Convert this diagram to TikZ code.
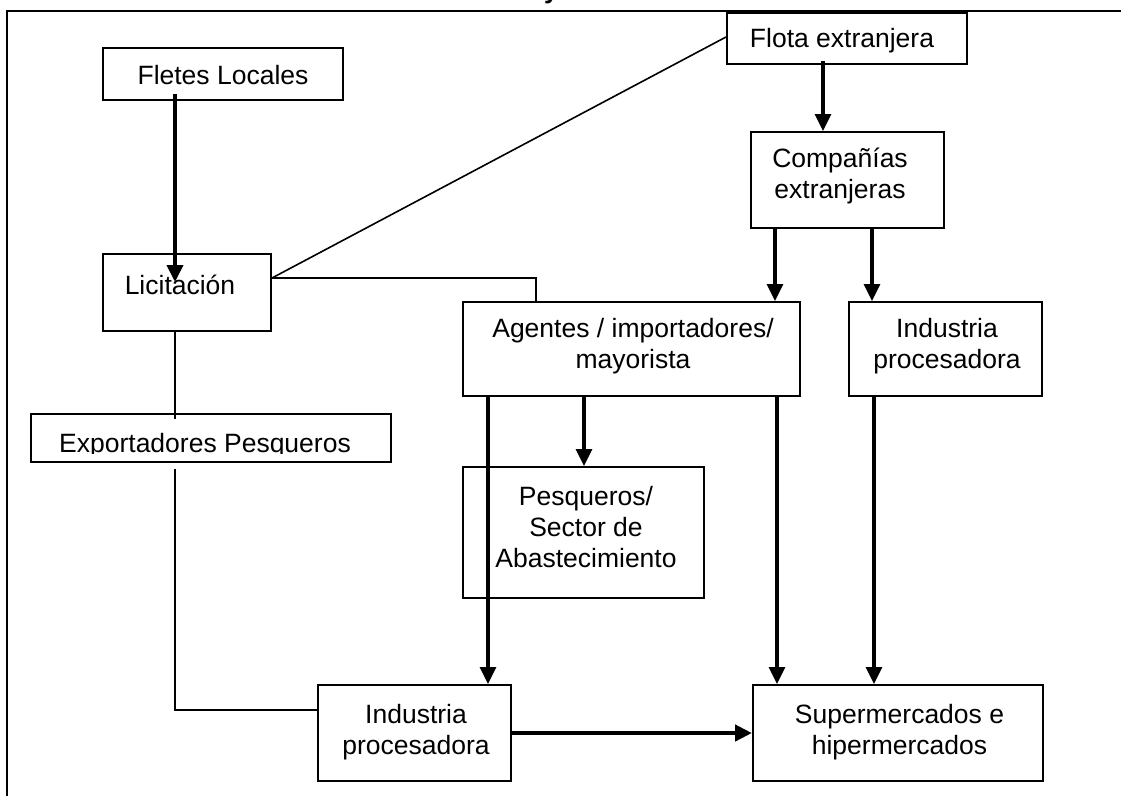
\documentclass[tikz,border=0pt]{standalone}
\usepackage{fontspec}
\setmainfont{Liberation Sans}
\usetikzlibrary{arrows.meta,calc}
\newcommand\textlines[1]{\vtop{\baselineskip=31pt\lineskiplimit=-100pt\halign{\hfil##\hfil\cr#1\crcr}}}
\begin{document}
\begin{tikzpicture}[x=1pt,y=-1pt,
  box/.style={draw, line width=2pt, inner sep=0pt, rectangle},
  lbl/.style={anchor=base, inner sep=0pt, font=\fontsize{26.5}{31}\selectfont},
  thinline/.style={line width=1.6pt},
  arr/.style={line width=3.2pt, -{Triangle[length=17pt,width=16pt]}},
  ]
\useasboundingbox (0,0) rectangle (1121,796);
% frame
\draw[line width=2pt] (7,796) -- (7,10.5) -- (1121,10.5);
\node[anchor=base west, inner sep=0pt, font=\fontsize{26}{31}\selectfont\bfseries] (ttl) at (544,-1.5) {y};

% boxes
\node[box, minimum width=240pt, minimum height=52pt] (fletes) at (223,74) {};
\node[box, minimum width=240pt, minimum height=51pt] (flota) at (847,38.5) {};
\node[box, minimum width=193pt, minimum height=96pt] (comp) at (847.5,180) {};
\node[box, minimum width=168pt, minimum height=77pt] (lic) at (187,292.5) {};
\node[box, minimum width=360pt, minimum height=48pt] (expo) at (211,438) {};
\node[box, minimum width=337pt, minimum height=94pt] (agentes) at (631.5,349) {};
\node[box, minimum width=193pt, minimum height=94pt] (indR) at (945.5,349) {};
\node[box, minimum width=241pt, minimum height=131pt] (pesq) at (583.5,532.5) {};
\node[box, minimum width=193pt, minimum height=96pt] (indB) at (414.5,733) {};
\node[box, minimum width=290pt, minimum height=96pt] (super) at (898,733) {};

% texts
\node[lbl] (fletes-t) at (223,84) {Fletes Locales};
\node[lbl] (flota-t) at (842,47) {Flota extranjera};
\node[lbl] (comp-t) at (840,167) {\textlines{Compañías\cr extranjeras}};
\node[lbl] (lic-t) at (180,294) {Licitación};
\begin{scope}
  \clip (31,414) rectangle (391,453);
  \node[lbl] (expo-t) at (205,452) {Exportadores Pesqueros};
\end{scope}
\node[lbl] (agentes-t) at (633,337) {\textlines{Agentes / importadores/\cr mayorista}};
\node[lbl] (indR-t) at (947,337) {\textlines{Industria\cr procesadora}};
\node[lbl] (pesq-t) at (586,505) {\textlines{Pesqueros/\cr Sector de\cr Abastecimiento}};
\node[lbl] (indB-t) at (416,723) {\textlines{Industria\cr procesadora}};
\node[lbl] (super-t) at (899.5,723) {\textlines{Supermercados e\cr hipermercados}};

% x positions of connectors
\coordinate (xA) at (175,0);
\coordinate (xB) at (823,0);
\coordinate (xC) at (536,0);
\coordinate (xD) at (775,0);
\coordinate (xE) at (872,0);
\coordinate (xF) at (584,0);
\coordinate (xG) at (488,0);
\coordinate (xH) at (777,0);
\coordinate (xI) at (874,0);

% connectors
\draw[arr, line width=3.8pt] ([yshift=7pt]fletes.south -| xA) -- ([yshift=-29pt]lic.north -| xA);
\draw[arr] ([yshift=4pt]flota.south -| xB) -- (comp.north -| xB);
\draw[thinline] ([yshift=14.5pt]lic.east) -- ([yshift=1.5pt]flota.west);
\draw[thinline] ([yshift=14.5pt]lic.east) -| (agentes.north -| xC);
\draw[thinline] (lic.south -| xA) -- ([yshift=-6pt]expo.north -| xA);
\draw[thinline] ([yshift=-6pt]expo.south -| xA) |- ([yshift=23pt]indB.west);
\draw[arr] (comp.south -| xD) -- (agentes.north -| xD);
\draw[arr] (comp.south -| xE) -- (indR.north -| xE);
\draw[arr] (agentes.south -| xF) -- (pesq.north -| xF);
\draw[arr] (agentes.south -| xG) -- (indB.north -| xG);
\draw[arr] (agentes.south -| xH) -- (super.north -| xH);
\draw[arr] (indR.south -| xI) -- (super.north -| xI);
\draw[arr, line width=4.8pt] (indB.east) -- (super.west);
\end{tikzpicture}
\end{document}
